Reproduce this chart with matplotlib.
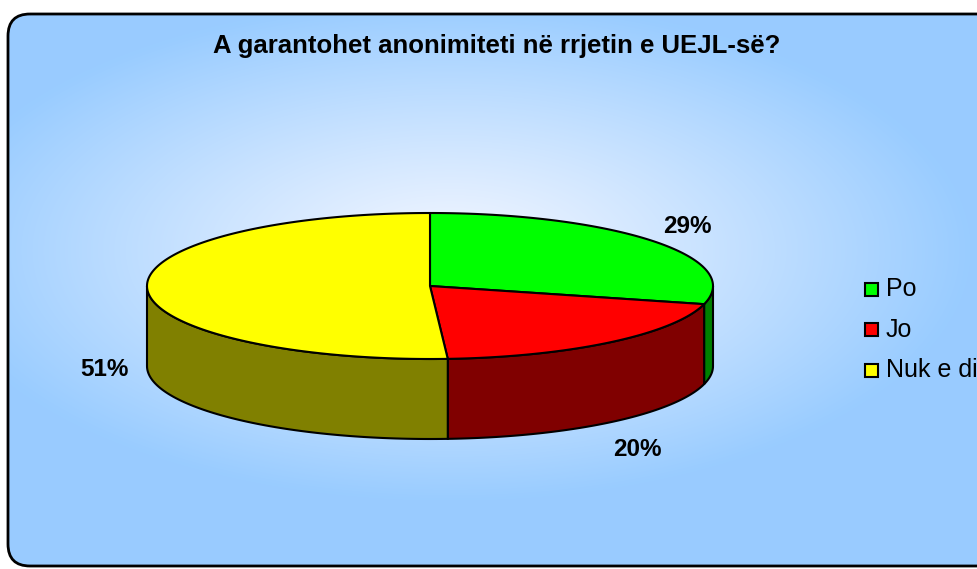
import matplotlib
matplotlib.use("Agg")
import matplotlib.pyplot as plt
import numpy as np
from matplotlib.patches import FancyBboxPatch, Polygon, Rectangle

title = "A garantohet anonimiteti në rrjetin e UEJL-së?"
labels = ["Po", "Jo", "Nuk e di"]
values = [29, 20, 51]
top_colors = ["#00FF00", "#FF0000", "#FFFF00"]
side_colors = ["#008000", "#800000", "#808000"]

W, H = 978, 569
fig = plt.figure(figsize=(W / 100, H / 100), dpi=100)
ax = fig.add_axes([0, 0, 1, 1])
ax.set_xlim(0, W)
ax.set_ylim(H, 0)
ax.axis("off")
fig.patch.set_facecolor("white")

# background: radial gradient inside a rounded frame
yy, xx = np.mgrid[0:H, 0:W]
t = np.sqrt(((xx - 450) / 520) ** 2 + ((yy - 250) / 250) ** 2)
t = np.clip(t, 0, 1) ** 1.1
light = np.array([242, 246, 255]) / 255
edge = np.array([153, 204, 255]) / 255
img = light[None, None, :] * (1 - t[..., None]) + edge[None, None, :] * t[..., None]
frame = FancyBboxPatch((8, 14), 1000, 552, boxstyle="round,pad=0,rounding_size=22",
                       facecolor="none", edgecolor="black", lw=2, zorder=5)
ax.add_patch(frame)
bg = ax.imshow(img, extent=(0, W, H, 0), zorder=0)
bg.set_clip_path(frame)

# 3D pie geometry (pixels)
cx, cy, rx, ry, depth = 430, 286, 283, 73, 80


def pt(theta, dy=0):
    return cx + rx * np.cos(theta), cy - ry * np.sin(theta) + dy


fracs = np.array(values) / sum(values)
starts = np.pi / 2 - 2 * np.pi * np.concatenate([[0], np.cumsum(fracs)[:-1]])
ends = starts - 2 * np.pi * fracs

# side walls (front half only)
for s, e, c in zip(starts, ends, side_colors):
    a0, a1 = max(e, -np.pi), min(s, 0)
    if a1 <= a0:
        a0, a1 = max(e + 2 * np.pi, np.pi), min(s + 2 * np.pi, 2 * np.pi)
        if a1 <= a0:
            continue
    th = np.linspace(a0, a1, 80)
    tx, ty = pt(th)
    bx, by = pt(th[::-1], depth)
    poly = np.column_stack([np.concatenate([tx, bx]), np.concatenate([ty, by])])
    ax.add_patch(Polygon(poly, closed=True, facecolor=c, edgecolor="black", lw=1.5, zorder=2))

# top faces
for s, e, c in zip(starts, ends, top_colors):
    th = np.linspace(s, e, 200)
    px, py = pt(th)
    poly = np.column_stack([np.concatenate([[cx], px]), np.concatenate([[cy], py])])
    ax.add_patch(Polygon(poly, closed=True, facecolor=c, edgecolor="black", lw=1.5,
                         joinstyle="round", zorder=3))

# percentage labels
for s, e, v in zip(starts, ends, values):
    mid = (s + e) / 2
    k = 1.15
    lx = cx + rx * k * np.cos(mid)
    ly = cy - ry * k * np.sin(mid)
    if np.sin(mid) < 0:
        ly += depth + 25 * (-np.sin(mid))
    else:
        ly -= 8
    ax.text(lx, ly, f"{v}%", ha="center", va="center", fontsize=17.5,
            fontweight="bold", family="Liberation Sans", zorder=6)

ax.text(497, 46, title, ha="center", va="center", fontsize=18.5, fontweight="bold",
        family="Liberation Sans", zorder=6)

# legend
for i, (lab, c) in enumerate(zip(labels, top_colors)):
    y = 289 + i * 40.5
    ax.add_patch(Rectangle((864.5, y - 6.5), 13, 13, facecolor=c, edgecolor="black", lw=1.5, zorder=6))
    ax.text(886, y, lab, ha="left", va="center", fontsize=18, family="Liberation Sans", zorder=6)

fig.savefig("out.png", dpi=100)
